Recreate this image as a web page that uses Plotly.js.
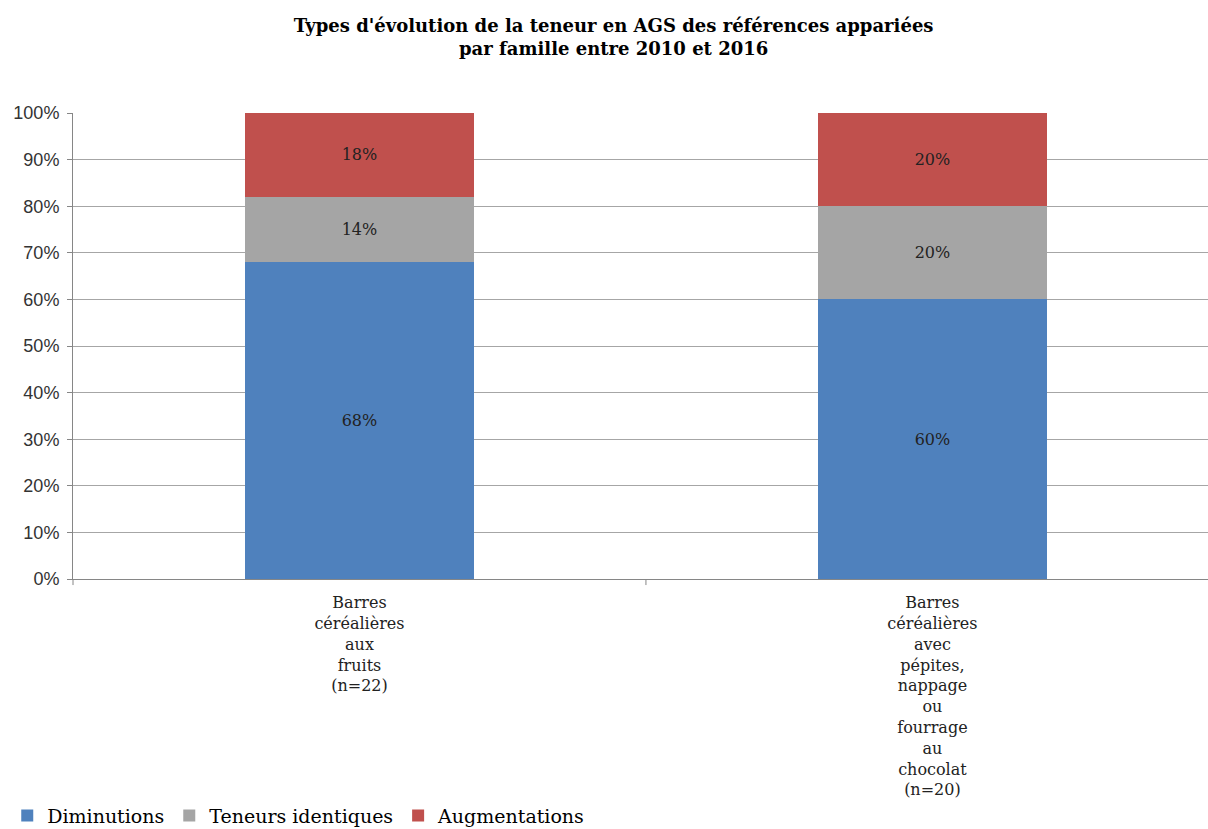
<!DOCTYPE html>
<html><head><meta charset="utf-8">
<script src="https://cdn.plot.ly/plotly-3.0.1.min.js"></script>
<style>html,body{margin:0;padding:0;background:#fff}#chart{width:1208px;height:829px}</style>
</head><body><div id="chart"></div>
<script>
const categories = ["Barres<br>céréalières<br>aux<br>fruits<br>(n=22)", "Barres<br>céréalières<br>avec<br>pépites,<br>nappage<br>ou<br>fourrage<br>au<br>chocolat<br>(n=20)"];
const diminutions = [68, 60];
const identiques = [14, 20];
const augmentations = [18, 20];
const yTickVals = [0,10,20,30,40,50,60,70,80,90,100];
const yTickText = yTickVals.map(v => v + "%");

const serif = "DejaVu Serif, Liberation Serif, serif";
function mk(name, vals, color) {
  return {
    type: "bar", name: name, x: [0, 1], y: vals,
    marker: {color: color, line: {width: 0}},
    width: 0.4,
    text: vals.map(v => v + "%"), textposition: "inside", insidetextanchor: "middle",
    textfont: {family: serif, size: 16, color: "#222222"},
    hoverinfo: "none"
  };
}
const data = [
  mk("Diminutions", diminutions, "#4F81BD"),
  mk("Teneurs identiques", identiques, "#A5A5A5"),
  mk("Augmentations", augmentations, "#C0504D")
];
const layout = {
  width: 1208, height: 829, barmode: "stack",
  paper_bgcolor: "#fff", plot_bgcolor: "#fff",
  margin: {l: 73, r: 0, t: 113, b: 250},
  title: {text: "<b>Types d'évolution de la teneur en AGS des références appariées<br>par famille entre 2010 et 2016</b>",
    font: {family: serif, size: 18, color: "#000"}, x: 0.508, xanchor: "center", y: 0.962, yanchor: "top", yref: "container"},
  xaxis: {range: [-0.5, 1.481], tickvals: [0, 1], ticktext: categories, showgrid: false,
    showline: true, linecolor: "#868686", linewidth: 1, ticks: "", ticklabelstandoff: 9,
    tickfont: {family: serif, size: 16, color: "#222"}, fixedrange: true, zeroline: false},
  yaxis: {range: [0, 100], tickvals: yTickVals, ticktext: yTickText, showgrid: true, gridcolor: "#A6A6A6",
    showline: true, linecolor: "#868686", ticks: "outside", ticklen: 5, tickcolor: "#868686", ticklabelstandoff: 4,
    tickfont: {family: "Liberation Sans, Arial, sans-serif", size: 18, color: "#333"}, zeroline: false},
  showlegend: true,
  legend: {orientation: "h", xref: "container", yref: "container", x: 0.006, xanchor: "left", y: 0.016, yanchor: "middle",
    font: {family: serif, size: 19, color: "#000"}, traceorder: "normal"},
  shapes: [
    {type: "line", xref: "x", yref: "paper", x0: 0.5, x1: 0.5, y0: 0, y1: -0.013, line: {color: "#868686", width: 1}},
    {type: "line", xref: "paper", yref: "paper", x0: 0, x1: 0, y0: 0, y1: -0.013, line: {color: "#868686", width: 1}}
  ]
};
Plotly.newPlot("chart", data, layout, {displayModeBar: false, staticPlot: true});
</script></body></html>
